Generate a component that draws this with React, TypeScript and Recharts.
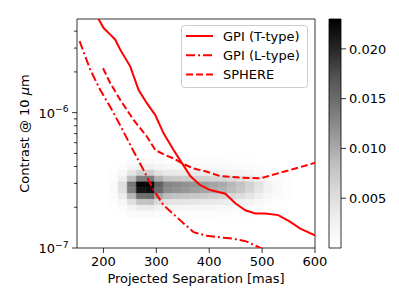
import React from 'react';
import { ComposedChart, Line, XAxis, YAxis, ReferenceArea, Legend, Label } from 'recharts';

const FONT = '"DejaVu Sans", Verdana, sans-serif';

// ---------- axes ----------
const xDomain = [150, 600];
const yDomain = [1e-7, 4.92e-6];
const xTicks = [200, 300, 400, 500, 600];
const yTicks = [1e-7, 2e-7, 3e-7, 4e-7, 5e-7, 6e-7, 7e-7, 8e-7, 9e-7, 1e-6, 2e-6, 3e-6, 4e-6];
const cbarTicks = [0.005, 0.01, 0.015, 0.02];
const cbarMax = 0.023;

// ---------- curves ----------
const gpiTSep = [185, 190.8, 200.3, 213.0, 222.4, 231.9, 250.8, 266.5, 282.4, 298.0, 313.7, 332.6, 348.5, 364.2, 383.1, 402.0, 430.4, 449.3, 468.2, 487.1, 506.0, 530.6, 553.3, 572.2, 600];
const gpiTContrast = [5.4e-6, 4.92e-6, 4.22e-6, 3.77e-6, 3.46e-6, 2.91e-6, 2.19e-6, 1.47e-6, 1.17e-6, 9.6e-7, 7.03e-7, 5.29e-7, 4.24e-7, 3.4e-7, 2.91e-7, 2.68e-7, 2.52e-7, 2.14e-7, 1.9e-7, 1.8e-7, 1.8e-7, 1.75e-7, 1.56e-7, 1.39e-7, 1.24e-7];

const gpiLSep = [154.9, 175.1, 194.0, 213.0, 231.9, 254.0, 275.9, 294.8, 313.7, 345.3, 370.5, 395.8, 427.2, 446.0, 470.0, 496.6, 520];
const gpiLContrast = [3.38e-6, 2.07e-6, 1.47e-6, 1.1e-6, 8.04e-7, 5.45e-7, 3.76e-7, 2.68e-7, 2.07e-7, 1.6e-7, 1.31e-7, 1.23e-7, 1.19e-7, 1.17e-7, 1.12e-7, 1.0e-7, 0.92e-7];

const sphereSep = [199.2, 213.0, 231.9, 257.0, 282.4, 298.0, 316.9, 332.6, 348.5, 370.5, 395.8, 420.9, 458.8, 496.6, 562.8, 600];
const sphereContrast = [2.13e-6, 1.65e-6, 1.24e-6, 8.83e-7, 6.64e-7, 5.29e-7, 4.86e-7, 4.59e-7, 4.22e-7, 3.87e-7, 3.66e-7, 3.4e-7, 3.31e-7, 3.27e-7, 3.87e-7, 4.26e-7];

// ---------- 2D histogram ----------
const sepEdges = [210.5, 227.7, 244.9, 262.1, 279.3, 296.5, 313.7, 330.9, 348.1, 365.3, 382.5, 399.7, 416.9, 434.1, 451.3, 468.5, 485.7, 502.9, 520.1, 537.3, 554.5];
const contrastEdges = [4.58e-7, 4.15e-7, 3.76e-7, 3.4e-7, 3.08e-7, 2.79e-7, 2.53e-7, 2.29e-7, 2.07e-7, 1.88e-7, 1.7e-7];
// values in units of 1e-3, rows top -> bottom, columns left -> right
const densityE3 = [
  [0.05, 0.25, 0.7, 1.1, 1.2, 0.8, 0.65, 0.6, 0.6, 0.6, 0.55, 0.5, 0.5, 0.45, 0.4, 0.3, 0.2, 0.1, 0.06, 0.03],
  [0.1, 0.6, 1.7, 2.7, 2.8, 1.9, 1.6, 1.5, 1.4, 1.4, 1.3, 1.3, 1.2, 1.1, 1.0, 0.8, 0.5, 0.3, 0.15, 0.06],
  [0.3, 1.5, 4.2, 6.8, 6.9, 4.8, 3.9, 3.8, 3.6, 3.5, 3.3, 3.2, 3.0, 2.7, 2.4, 2.0, 1.4, 0.8, 0.4, 0.15],
  [0.6, 3.0, 8.4, 13.5, 13.8, 9.6, 7.8, 7.5, 7.2, 6.9, 6.6, 6.3, 6.0, 5.4, 4.8, 3.9, 2.7, 1.5, 0.7, 0.3],
  [1.0, 5.0, 14.0, 22.5, 23.0, 16.0, 13.0, 12.5, 12.0, 11.5, 11.0, 10.5, 10.0, 9.0, 8.0, 6.5, 4.5, 2.5, 1.2, 0.5],
  [0.95, 4.8, 13.3, 21.4, 21.9, 15.2, 12.4, 11.9, 11.4, 10.9, 10.5, 10.0, 9.5, 8.6, 7.6, 6.2, 4.3, 2.4, 1.1, 0.5],
  [0.65, 3.3, 9.1, 14.6, 15.0, 10.4, 8.5, 8.1, 7.8, 7.5, 7.2, 6.8, 6.5, 5.9, 5.2, 4.2, 2.9, 1.6, 0.8, 0.3],
  [0.35, 1.8, 4.9, 7.9, 8.1, 5.6, 4.6, 4.4, 4.2, 4.0, 3.9, 3.7, 3.5, 3.2, 2.8, 2.3, 1.6, 0.9, 0.4, 0.2],
  [0.15, 0.75, 2.1, 3.4, 3.5, 2.4, 2.0, 1.9, 1.8, 1.7, 1.65, 1.6, 1.5, 1.35, 1.2, 1.0, 0.7, 0.4, 0.2, 0.08],
  [0.05, 0.25, 0.7, 1.1, 1.2, 0.8, 0.65, 0.6, 0.6, 0.6, 0.55, 0.5, 0.5, 0.45, 0.4, 0.3, 0.2, 0.1, 0.06, 0.03],
];

const seriesNames = ['GPI (T-type)', 'GPI (L-type)', 'SPHERE'];
const RED = '#ff0000';
const dashes = [undefined, '9 3 2 3', '7 3'];

const toData = (s: number[], c: number[]) => s.map((v, i) => ({ sep: v, contrast: c[i] }));
const tData = toData(gpiTSep, gpiTContrast);
const lData = toData(gpiLSep, gpiLContrast);
const sData = toData(sphereSep, sphereContrast);
const cbarData = [{ x: 0, v: 0 }, { x: 1, v: cbarMax }];

const GREYS = ['#ffffff', '#f0f0f0', '#d9d9d9', '#bdbdbd', '#969696', '#737373', '#525252', '#252525', '#000000'];
const hexToRgb = (h: string) => [1, 3, 5].map((i) => parseInt(h.slice(i, i + 2), 16));
function greys(t: number) {
  const tt = Math.max(0, Math.min(1, t));
  const p = tt * (GREYS.length - 1);
  const i = Math.min(GREYS.length - 2, Math.floor(p));
  const f = p - i;
  const a = hexToRgb(GREYS[i]);
  const b = hexToRgb(GREYS[i + 1]);
  const c = a.map((v, k) => Math.round(v + (b[k] - v) * f));
  return `rgb(${c[0]},${c[1]},${c[2]})`;
}

const YTick = (props: any) => {
  const { x, y, payload } = props;
  const v = payload.value as number;
  const lg = Math.log10(v);
  const exp = Math.round(lg);
  const major = Math.abs(lg - exp) < 1e-6;
  const len = major ? 5 : 3;
  return (
    <g>
      <line x1={x - len} x2={x} y1={y} y2={y} stroke="#000" strokeWidth={0.8} />
      {major && (
        <text x={x - 8.5} y={y + 5} textAnchor="end" fontSize={13} fontFamily={FONT} fill="#000">
          10<tspan dy={-5.5} fontSize={9.2}>{'\u2212' + Math.abs(exp)}</tspan>
        </text>
      )}
    </g>
  );
};

const XTick = (props: any) => {
  const { x, y, payload } = props;
  return (
    <g>
      <line x1={x} x2={x} y1={y} y2={y + 5} stroke="#000" strokeWidth={0.8} />
      <text x={x} y={y + 18} textAnchor="middle" fontSize={13} fontFamily={FONT} fill="#000">
        {payload.value}
      </text>
    </g>
  );
};

const CTick = (props: any) => {
  const { x, y, payload } = props;
  return (
    <g>
      <line x1={x} x2={x + 5} y1={y} y2={y} stroke="#000" strokeWidth={0.8} />
      <text x={x + 8} y={y + 4.7} textAnchor="start" fontSize={13} fontFamily={FONT} fill="#000">
        {(payload.value as number).toFixed(3)}
      </text>
    </g>
  );
};

const LegendBox = () => (
  <svg width={128} height={64} style={{ display: 'block', overflow: 'visible' }}>
    <rect x={0.5} y={0.5} width={126} height={62} rx={3} ry={3} fill="#ffffff" fillOpacity={0.8} stroke="#cccccc" strokeWidth={1} />
    {seriesNames.map((n, i) => (
      <g key={n}>
        <line x1={5} x2={32} y1={11 + i * 19.3} y2={11 + i * 19.3} stroke={RED} strokeWidth={2} strokeDasharray={dashes[i]} />
        <text x={42} y={11 + i * 19.3 + 4.7} fontSize={13} fontFamily={FONT} fill="#000">{n}</text>
      </g>
    ))}
  </svg>
);

const cells: React.ReactNode[] = [];
densityE3.forEach((row, r) => {
  row.forEach((v, c) => {
    const col = greys((v * 1e-3) / cbarMax);
    cells.push(
      <ReferenceArea
        key={`c-${r}-${c}`}
        x1={sepEdges[c]}
        x2={sepEdges[c + 1]}
        y1={contrastEdges[r + 1]}
        y2={contrastEdges[r]}
        fill={col}
        fillOpacity={1}
        stroke={col}
        strokeWidth={0.5}
        ifOverflow="visible"
      />
    );
  });
});

export default function App() {
  return (
    <div style={{ position: 'absolute', left: 0, top: 0, width: 399, height: 303, background: '#fff' }}>
      <div style={{ position: 'absolute', left: 0, top: 0 }}>
        <ComposedChart width={399} height={303} margin={{ top: 19, right: 84, bottom: 0, left: 0 }}>
          <XAxis
            dataKey="sep"
            type="number"
            domain={xDomain}
            allowDataOverflow
            ticks={xTicks}
            interval={0}
            height={55}
            tickSize={0}
            tickMargin={0}
            tickLine={false}
            axisLine={false}
            tick={(p: any) => <XTick {...p} />}
          >
            <Label
              content={(p: any) => {
                const vb = p.viewBox;
                return (
                  <text x={vb.x + vb.width / 2} y={vb.y + 35} textAnchor="middle" fontSize={13} fontFamily={FONT} fill="#000">
                    Projected Separation [mas]
                  </text>
                );
              }}
            />
          </XAxis>
          <YAxis
            type="number"
            scale="log"
            domain={yDomain}
            allowDataOverflow
            ticks={yTicks}
            interval={0}
            width={77}
            tickSize={0}
            tickMargin={0}
            tickLine={false}
            axisLine={false}
            tick={(p: any) => <YTick {...p} />}
          >
            <Label
              content={(p: any) => {
                const vb = p.viewBox;
                const cx = 29;
                const cy = vb.y + vb.height / 2;
                return (
                  <text x={cx} y={cy} transform={`rotate(-90 ${cx} ${cy})`} textAnchor="middle" fontSize={13} fontFamily={FONT} fill="#000">
                    Contrast @ 10 <tspan fontStyle="italic">{'\u03bc'}</tspan>m
                  </text>
                );
              }}
            />
          </YAxis>
          {cells}
          <Line data={tData} dataKey="contrast" name={seriesNames[0]} stroke={RED} strokeWidth={2} dot={false} isAnimationActive={false} />
          <Line data={lData} dataKey="contrast" name={seriesNames[1]} stroke={RED} strokeWidth={2} strokeDasharray={dashes[1]} dot={false} isAnimationActive={false} />
          <Line data={sData} dataKey="contrast" name={seriesNames[2]} stroke={RED} strokeWidth={2} strokeDasharray={dashes[2]} dot={false} isAnimationActive={false} />
          <ReferenceArea x1={xDomain[0]} x2={xDomain[1]} y1={yDomain[0]} y2={yDomain[1]} fill="none" stroke="#000" strokeWidth={0.8} ifOverflow="visible" />
          <Legend
            layout="vertical"
            align="center"
            verticalAlign="middle"
            content={() => <LegendBox />}
            wrapperStyle={{ position: 'absolute', left: 181, top: 25, width: 128, height: 64 }}
          />
        </ComposedChart>
      </div>
      <div style={{ position: 'absolute', left: 320, top: 0 }}>
        <ComposedChart data={cbarData} width={79} height={303} margin={{ top: 19, right: 0, bottom: 55, left: 9 }}>
          <defs>
            <linearGradient id="cbarGrad" x1="0" y1="1" x2="0" y2="0">
              {GREYS.map((g, i) => (
                <stop key={i} offset={i / (GREYS.length - 1)} stopColor={g} />
              ))}
            </linearGradient>
          </defs>
          <XAxis type="number" dataKey="x" domain={[0, 1]} allowDataOverflow hide />
          <YAxis
            orientation="right"
            type="number"
            dataKey="v"
            domain={[0, cbarMax]}
            allowDataOverflow
            ticks={cbarTicks}
            interval={0}
            width={58}
            tickSize={0}
            tickMargin={0}
            tickLine={false}
            axisLine={false}
            tick={(p: any) => <CTick {...p} />}
          />
          <ReferenceArea x1={0} x2={1} y1={0} y2={cbarMax} fill="url(#cbarGrad)" fillOpacity={1} stroke="#000" strokeWidth={0.8} ifOverflow="visible" />
        </ComposedChart>
      </div>
    </div>
  );
}
